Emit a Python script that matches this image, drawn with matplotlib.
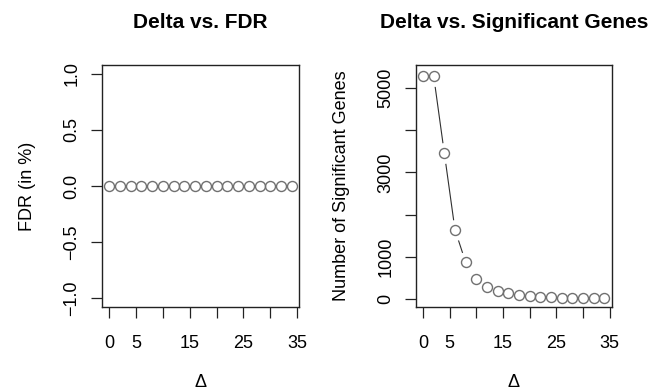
import matplotlib
matplotlib.use("Agg")
import matplotlib.pyplot as plt

plt.rcParams['font.family'] = ['Liberation Sans', 'DejaVu Sans']

# data
delta = [0, 2, 4, 6, 8, 10, 12, 14, 16, 18, 20, 22, 24, 26, 28, 30, 32, 34]
fdr = [0.0] * 18
n_sig = [5290, 5290, 3460, 1640, 870, 470, 280, 200, 140, 100, 70, 50, 40, 30, 25, 20, 20, 15]

x_ticks = [0, 5, 10, 15, 20, 25, 30, 35]
x_labels = ["0", "5", "", "15", "", "25", "", "35"]
fdr_ticks = [-1.0, -0.5, 0.0, 0.5, 1.0]
fdr_labels = ["\u22121.0", "\u22120.5", "0.0", "0.5", "1.0"]
sig_ticks = [0, 1000, 2000, 3000, 4000, 5000]
sig_labels = ["0", "1000", "", "3000", "", "5000"]

PT_COL = "#707070"
LINE_COL = "#303030"
AX_COL = "#222222"


def r_plot(ax, x, y):
    """R type='b' look: line with gaps around open circles."""
    ax.plot(x, y, color=LINE_COL, lw=0.8, zorder=1)
    ax.plot(x, y, ls="none", marker="o", ms=15, mfc="white", mec="none", zorder=2)
    ax.plot(x, y, ls="none", marker="o", ms=7.2, mfc="none", mec=PT_COL, mew=1.0, zorder=3)


def style_axes(ax, title, ylabel, yticks, ylabels):
    ax.set_xticks(x_ticks)
    ax.set_xticklabels(x_labels)
    ax.set_yticks(yticks)
    ax.set_yticklabels(ylabels, rotation=90, va="center")
    ax.tick_params(direction="out", length=8, width=0.9, labelsize=13, color=AX_COL)
    ax.tick_params(axis="x", pad=12)
    ax.tick_params(axis="y", pad=7.5)
    for s in ax.spines.values():
        s.set_linewidth(1.0)
        s.set_color(AX_COL)
    ax.set_title(title, fontsize=15, fontweight="bold", pad=26.5)
    ax.set_ylabel(ylabel, fontsize=13)
    ax.yaxis.set_label_coords(-0.333, 0.5)
    # delta label sits right at the bottom edge, as in the original
    ax.set_xlabel("\u0394", fontsize=13)
    ax.xaxis.set_label_coords(0.5, -0.278)


fig = plt.figure(figsize=(6.65, 3.92), dpi=100)
ax1 = fig.add_axes([102 / 665, 85 / 392, 197 / 665, 242 / 392])
ax2 = fig.add_axes([415.7 / 665, 85 / 392, 196 / 665, 242 / 392])

r_plot(ax1, delta, fdr)
ax1.set_xlim(-1.36, 35.36)
ax1.set_ylim(-1.08, 1.08)
style_axes(ax1, "Delta vs. FDR", "FDR (in %)", fdr_ticks, fdr_labels)

r_plot(ax2, delta, n_sig)
ax2.set_xlim(-1.36, 35.36)
ax2.set_ylim(-190, 5545)
style_axes(ax2, "Delta vs. Significant Genes", "Number of Significant Genes", sig_ticks, sig_labels)

fig.savefig("out.png", dpi=100)
